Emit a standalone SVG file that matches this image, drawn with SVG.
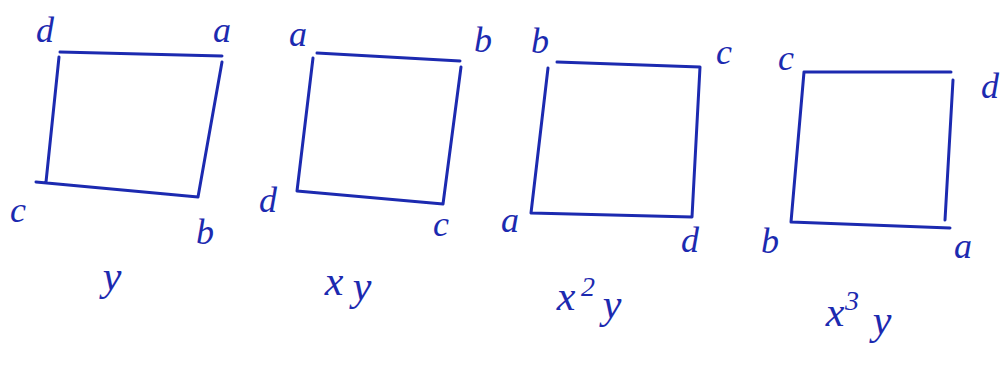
<svg xmlns="http://www.w3.org/2000/svg" width="1002" height="365" viewBox="0 0 1002 365">
<style>
.sq{fill:none;stroke:#1c2ab0;stroke-width:3;stroke-linecap:round;stroke-linejoin:round}
.lb{font-family:"Liberation Serif",serif;font-style:italic;font-size:36px;fill:#1c2ab0;text-anchor:middle}
.gp{font-family:"Liberation Serif",serif;font-style:italic;font-size:42px;fill:#1c2ab0;text-anchor:middle}
.sup{font-family:"Liberation Serif",serif;font-style:italic;font-size:28px;fill:#1c2ab0;text-anchor:middle}
</style>
<rect width="1002" height="365" fill="#fff"/>
<g id="square-y">
<path class="sq" d="M60,52 L222,56 M59,57 L46,182 M36,182 L198,197 M222,62 L198,197"/>
<text class="lb" x="45" y="42">d</text>
<text class="lb" x="222" y="42">a</text>
<text class="lb" x="18" y="222">c</text>
<text class="lb" x="205" y="244">b</text>
<text class="gp" x="112" y="290">y</text>
</g>
<g id="square-xy">
<path class="sq" d="M317,53 L460,61 M313,58 L297,191 M297,191 L443,204 M461,67 L443,204"/>
<text class="lb" x="298" y="46">a</text>
<text class="lb" x="483" y="52">b</text>
<text class="lb" x="268" y="212">d</text>
<text class="lb" x="441" y="236">c</text>
<text class="gp" x="334" y="295">x</text>
<text class="gp" x="362" y="300">y</text>
</g>
<g id="square-x2y">
<path class="sq" d="M557,62 L700,67 M548,68 L531,213 M531,213 L692,217 M700,67 L692,217"/>
<text class="lb" x="540" y="53">b</text>
<text class="lb" x="724" y="64">c</text>
<text class="lb" x="510" y="232">a</text>
<text class="lb" x="690" y="252">d</text>
<text class="gp" x="566" y="310">x</text>
<text class="sup" x="588" y="296">2</text>
<text class="gp" x="612" y="318">y</text>
</g>
<g id="square-x3y">
<path class="sq" d="M804,72 L951,72 M804,72 L791,222 M791,222 L950,228 M953,80 L945,220"/>
<text class="lb" x="786" y="70">c</text>
<text class="lb" x="990" y="98">d</text>
<text class="lb" x="770" y="253">b</text>
<text class="lb" x="963" y="258">a</text>
<text class="gp" x="835" y="326">x</text>
<text class="sup" x="852" y="310">3</text>
<text class="gp" x="882" y="334">y</text>
</g>
<g id="connectors"/>
</svg>
